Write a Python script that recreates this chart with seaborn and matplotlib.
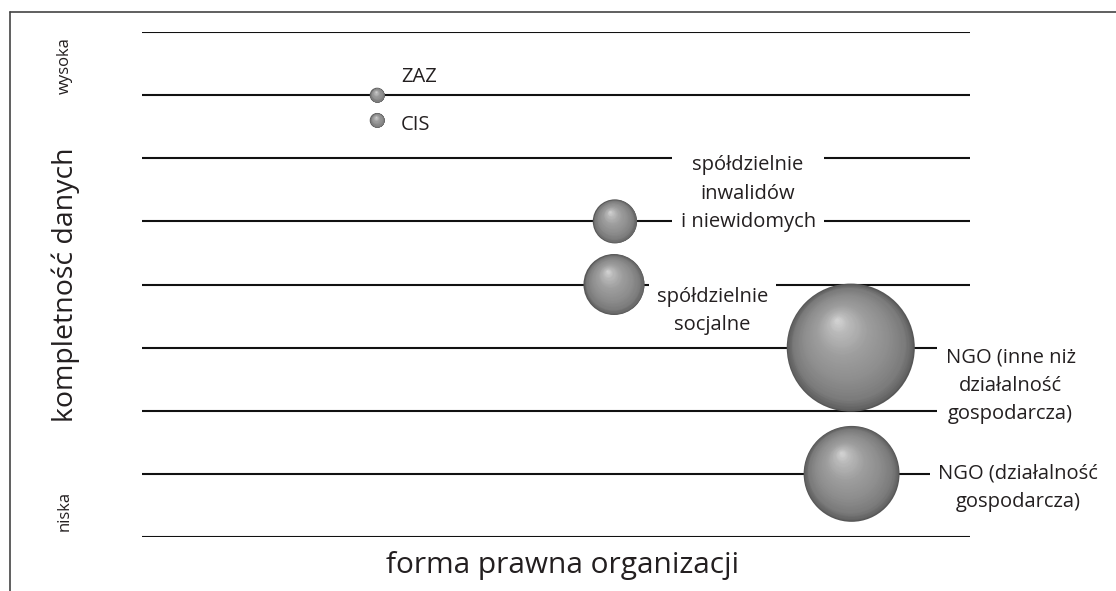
import numpy as np
import seaborn as sns
import matplotlib.pyplot as plt
from matplotlib.transforms import ScaledTranslation
from matplotlib.lines import Line2D

# dane
organizacje = ['ZAZ', 'CIS', 'spółdzielnie\ninwalidów\ni niewidomych', 'spółdzielnie\nsocjalne',
               'NGO (inne niż\ndziałalność\ngospodarcza)', 'NGO (działalność\ngospodarcza)']
forma = [28.4, 28.4, 57.1, 57.0, 85.6, 85.7]          # pozycja na osi "forma prawna"
kompletnosc = [7.0, 6.6, 5.0, 4.0, 3.0, 1.0]           # kompletność danych
liczebnosc = [2.2, 2.2, 19.4, 37.2, 164.0, 92.0]       # względna wielkość bąbla
poziomy = list(range(9))

W, H, DPI = 11.16, 5.91, 100
sns.set_theme(style='white')
plt.rcParams['font.family'] = ['Open Sans', 'DejaVu Sans']
TXT = '#231f20'

fig = plt.figure(figsize=(W, H), dpi=DPI)
ax = fig.add_axes([142 / 1116, 54 / 591, 828 / 1116, 505 / 591])
ax.set_xlim(0, 100)
ax.set_ylim(0, 8)
ax.axis('off')

# poziome linie
ax.hlines(poziomy, 0, 100, color='#111111', lw=1.5, zorder=1)

# średnice w pikselach
srednice = [10 * np.sqrt(v) for v in liczebnosc]
px = 72 / DPI

# baza kuli
sns.scatterplot(x=forma, y=kompletnosc, s=[(d * px) ** 2 for d in srednice],
                color='#575757', linewidth=0, legend=False, ax=ax, zorder=3)

# cieniowanie kuli warstwami
n = 60
for i, t in enumerate(np.linspace(0.02, 0.97, n)):
    r = 1 - t
    g = np.interp(t, [0, 0.12, 0.35, 0.6, 0.85, 0.97], [0.36, 0.48, 0.56, 0.62, 0.73, 0.82])
    for xx, yy, d in zip(forma, kompletnosc, srednice):
        R = d / 2
        dx = -0.22 * R * t / DPI
        dy = 0.44 * R * t / DPI
        tr = ax.transData + ScaledTranslation(dx, dy, fig.dpi_scale_trans)
        ax.scatter([xx], [yy], s=(d * r * px) ** 2, color=(g, g, g), linewidth=0,
                   transform=tr, zorder=3 + i * 0.001)

# etykiety
box = dict(facecolor='white', edgecolor='none', pad=6)
etyk = [(31.3, 7.29, 'left'), (31.3, 6.53, 'left'), (73.2, 5.44, 'center'),
        (68.9, 3.58, 'center'), (104.9, 2.39, 'center'), (105.8, 0.78, 'center')]
for k, ((tx, ty, ha), lab) in enumerate(zip(etyk, organizacje)):
    ax.text(tx, ty, lab, ha=ha, va='center', fontsize=14.5, color=TXT,
            linespacing=1.55, multialignment='center', bbox=box if k > 1 else None,
            zorder=5, clip_on=False)

# opisy osi
fig.text(65 / 1116, 1 - 66 / 591, 'wysoka', rotation=90, ha='center', va='center', fontsize=12, color=TXT)
fig.text(65 / 1116, 1 - 511 / 591, 'niska', rotation=90, ha='center', va='center', fontsize=12, color=TXT)
fig.text(66 / 1116, 1 - 285 / 591, 'kompletność danych', rotation=90, ha='center', va='center',
         fontsize=20.5, color=TXT)
fig.text(562 / 1116, 1 - 566 / 591, 'forma prawna organizacji', ha='center', va='center',
         fontsize=21.5, color=TXT)

# ramka
fig.add_artist(Line2D([10 / 1116, 10 / 1116], [0, 1 - 12 / 591], color='#444444', lw=1.2, transform=fig.transFigure))
fig.add_artist(Line2D([10 / 1116, 1], [1 - 12 / 591, 1 - 12 / 591], color='#444444', lw=1.2, transform=fig.transFigure))

fig.savefig('out.png', dpi=DPI)
